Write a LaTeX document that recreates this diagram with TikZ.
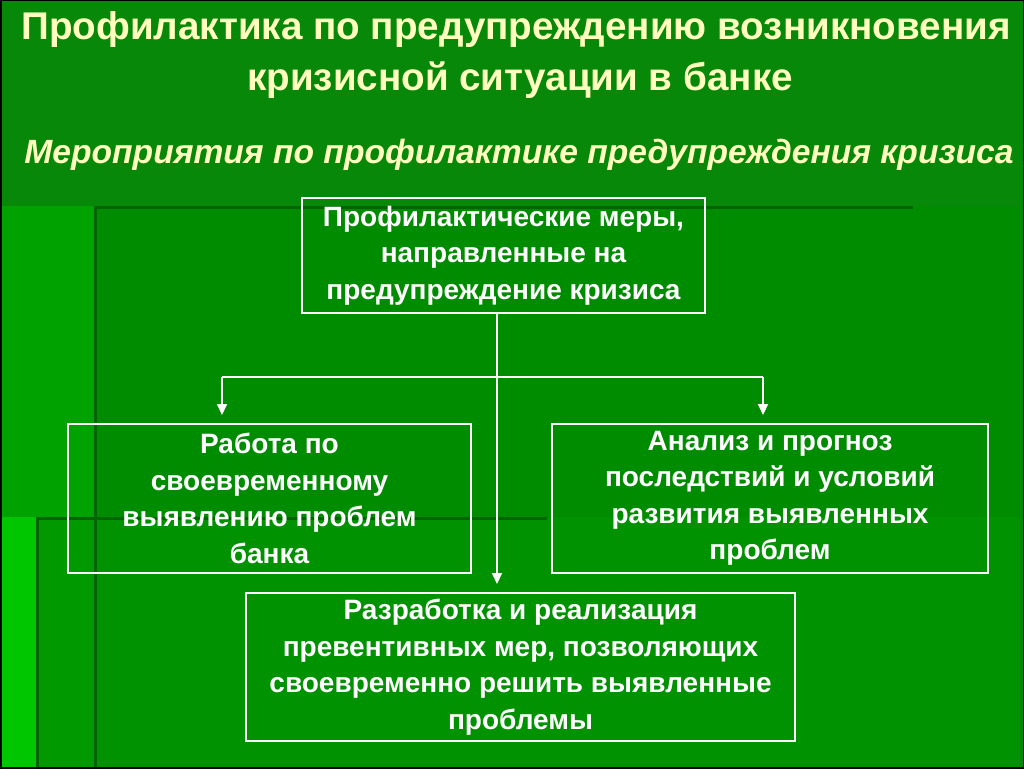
\documentclass[tikz,border=0pt]{standalone}
\usepackage{fontspec}
\setmainfont{Liberation Sans}
\usetikzlibrary{arrows.meta}
\definecolor{slideGreen}{RGB}{8,136,8}
\definecolor{panelGreen}{RGB}{0,140,0}
\definecolor{panelLow}{RGB}{0,146,0}
\definecolor{stripGreen}{RGB}{0,162,0}
\definecolor{stripLow}{RGB}{0,154,0}
\definecolor{edgeGreen}{RGB}{0,198,0}
\definecolor{shadeGreen}{RGB}{0,100,0}
\definecolor{titleYellow}{RGB}{255,255,190}
\begin{document}
\begin{tikzpicture}
[x=1pt,y=-1pt,
  titleDecorate/.style={text=titleYellow,font=\bfseries\fontsize{38.6}{44}\selectfont,anchor=base,inner sep=0pt},
  subDecorate/.style={text=titleYellow,font=\bfseries\itshape\fontsize{33.6}{38}\selectfont,anchor=base,inner sep=0pt},
  boxDecorate/.style={draw=white,line width=2pt,text=white,align=center,
    font=\bfseries\fontsize{28}{36.5}\selectfont,inner sep=0pt},
  lineDecorate/.style={draw=white,line width=2pt},
  arrowDecorate/.style={lineDecorate,-{Triangle[length=11pt,width=10pt]},shorten >=8pt},
  shadeDecorate/.style={draw=shadeGreen,line width=3pt}]
\clip (0,0) rectangle (1024,768);
%% background panels
\fill[slideGreen] (0,0) rectangle (1024,768);
\fill[stripGreen] (0,206) rectangle (95,768);
\fill[edgeGreen] (0,517) rectangle (37,768);
\fill[stripLow] (37,517) rectangle (95,768);
\fill[panelGreen] (95,206) rectangle (1020,517);
\fill[panelLow] (95,517) rectangle (1020,768);
\draw[shadeDecorate] (95,768) -- (95,207) -- (913,207);
\draw[shadeDecorate] (37,768) -- (37,518) -- (547,518);
\draw[black,line width=3pt] (0,0) rectangle (1024,768);
%% titles
\node[titleDecorate] (title1) at (516,40) {Профилактика по предупреждению возникновения};
\node[titleDecorate] (title2) at (520,90) {кризисной ситуации в банке};
\node[subDecorate] (subtitle) at (519,163) {Мероприятия по профилактике предупреждения кризиса};
%% boxes
\node[boxDecorate,minimum width=403pt,minimum height=115pt] (top) at (503.5,255.5)
  {Профилактические меры,\\направленные на\\предупреждение кризиса};
\node[boxDecorate,minimum width=403pt,minimum height=149pt] (left) at (269.5,498.5)
  {Работа по\\своевременному\\выявлению проблем\\банка};
\node[boxDecorate,minimum width=436pt,minimum height=149pt] (right) at (770,498.5)
  {Анализ и прогноз\\последствий и условий\\развития выявленных\\проблем};
\node[boxDecorate,minimum width=549pt,minimum height=148pt] (bottom) at (520.5,667)
  {Разработка и реализация\\превентивных мер, позволяющих\\своевременно решить выявленные\\проблемы};
%% connectors
\coordinate (hub) at (497,377);
\coordinate (lbend) at (222,377);
\coordinate (rbend) at (763,377);
\draw[arrowDecorate] (hub |- top.south) -- (hub |- bottom.north);
\draw[lineDecorate] (lbend) -- (rbend);
\foreach \bend/\target in {lbend/left, rbend/right}
{
  \draw[arrowDecorate] (\bend) -- (\bend |- \target.north);
}
\end{tikzpicture}
\end{document}
